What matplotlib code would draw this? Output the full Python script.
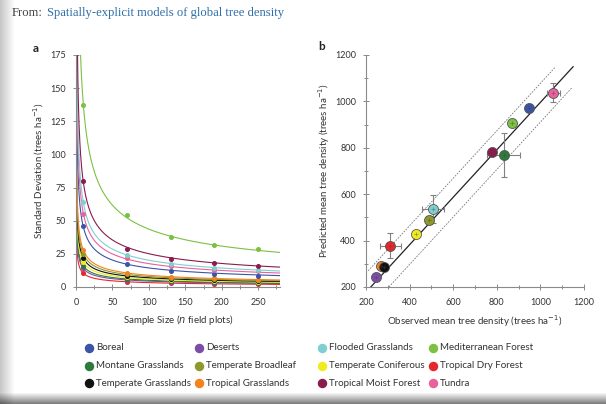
import numpy as np
import matplotlib
matplotlib.use("Agg")
import matplotlib.pyplot as plt
from matplotlib.lines import Line2D

# ---------------- data ----------------
biomes = ["Boreal", "Deserts", "Flooded Grasslands", "Mediterranean Forest",
          "Montane Grasslands", "Temperate Broadleaf", "Temperate Coniferous", "Tropical Dry Forest",
          "Temperate Grasslands", "Tropical Grasslands", "Tropical Moist Forest", "Tundra"]
colors = {"Boreal": "#3b54a5", "Deserts": "#7a4ea6", "Flooded Grasslands": "#80cfd0",
          "Mediterranean Forest": "#7cc143", "Montane Grasslands": "#2d7a3c",
          "Temperate Broadleaf": "#8c9a2c", "Temperate Coniferous": "#f0ea1e",
          "Tropical Dry Forest": "#e6262b", "Temperate Grasslands": "#111111",
          "Tropical Grasslands": "#f4821f", "Tropical Moist Forest": "#8a1c4c",
          "Tundra": "#e9619d"}

# panel a: standard deviation vs sample size
sample_n = [10, 70, 130, 190, 250]
sd_values = {
    "Mediterranean Forest": [137, 54, 38, 32, 29],
    "Tropical Moist Forest": [80, 29, 21, 18, 16],
    "Flooded Grasslands": [64, 24, 17.5, 14.5, 13],
    "Tundra": [55, 22, 16, 13, 12],
    "Boreal": [46, 17, 12, 9.5, 8.5],
    "Tropical Grasslands": [28, 10.5, 7.8, 6.5, 5.6],
    "Temperate Broadleaf": [25, 9.5, 7, 5.8, 5],
    "Temperate Grasslands": [22, 8.3, 6.1, 5, 4.4],
    "Temperate Coniferous": [19, 7.2, 5.3, 4.4, 3.8],
    "Montane Grasslands": [16, 6, 4.4, 3.7, 3.2],
    "Deserts": [14, 5.3, 3.9, 3.2, 2.8],
    "Tropical Dry Forest": [10.4, 3.9, 2.9, 2.4, 2.1],
}

# panel b: observed vs predicted mean tree density
obs = {"Deserts": 245, "Tropical Grasslands": 268, "Temperate Grasslands": 282,
       "Tropical Dry Forest": 312, "Temperate Coniferous": 428, "Temperate Broadleaf": 487,
       "Flooded Grasslands": 507, "Tropical Moist Forest": 778, "Montane Grasslands": 832,
       "Mediterranean Forest": 872, "Boreal": 948, "Tundra": 1060}
pred = {"Deserts": 245, "Tropical Grasslands": 290, "Temperate Grasslands": 285,
        "Tropical Dry Forest": 378, "Temperate Coniferous": 428, "Temperate Broadleaf": 488,
        "Flooded Grasslands": 537, "Tropical Moist Forest": 783, "Montane Grasslands": 770,
        "Mediterranean Forest": 908, "Boreal": 972, "Tundra": 1038}
xerr = {"Deserts": 0, "Tropical Grasslands": 8, "Temperate Grasslands": 0,
        "Tropical Dry Forest": 50, "Temperate Coniferous": 0, "Temperate Broadleaf": 12,
        "Flooded Grasslands": 50, "Tropical Moist Forest": 10, "Montane Grasslands": 75,
        "Mediterranean Forest": 0, "Boreal": 12, "Tundra": 30}
yerr = {"Deserts": 0, "Tropical Grasslands": 8, "Temperate Grasslands": 0,
        "Tropical Dry Forest": 55, "Temperate Coniferous": 0, "Temperate Broadleaf": 18,
        "Flooded Grasslands": 60, "Tropical Moist Forest": 10, "Montane Grasslands": 95,
        "Mediterranean Forest": 0, "Boreal": 18, "Tundra": 40}
fit_slope = 1.023
fit_intercepts = [-27, 55, -112]   # regression line, upper and lower bounds
fit_range = [(222, 1150), (210, 1068), (305, 1145)]

legend_cols = [["Boreal", "Montane Grasslands", "Temperate Grasslands"],
               ["Deserts", "Temperate Broadleaf", "Tropical Grasslands"],
               ["Flooded Grasslands", "Temperate Coniferous", "Tropical Moist Forest"],
               ["Mediterranean Forest", "Tropical Dry Forest", "Tundra"]]

# ---------------- figure ----------------
plt.rcParams['font.family'] = ['Lato', 'DejaVu Sans']
W, H = 606, 404
fig = plt.figure(figsize=(W / 100, H / 100), dpi=100)

# frame shading (left and bottom edges)
bg = fig.add_axes([0, 0, 1, 1], zorder=-10)
bg.set_axis_off()
img = np.ones((H, W))
xs = np.arange(W)
left = np.clip(1 - (14 - xs) / 14, 0, 1)
img *= (0.78 + 0.22 * left)[None, :]
ys = np.arange(H)
bottom = np.clip((ys - 392) / 12, 0, 1)
img = img * (1 - 0.55 * bottom[:, None])
bg.imshow(img, cmap="gray", vmin=0, vmax=1, aspect="auto", extent=[0, 1, 0, 1])
bg.set_xlim(0, 1); bg.set_ylim(0, 1)

renderer = fig.canvas.get_renderer()
t1 = fig.text(12 / W, 1 - 13 / H, "From:", family="Liberation Serif", fontsize=9.1,
              color="#444444", va="center", ha="left")
bb = t1.get_window_extent(renderer)
fig.text(bb.x1 / W + 4 / W, 1 - 13 / H, "Spatially-explicit models of global tree density",
         family="Liberation Serif", fontsize=9.1, color="#2f6ea8", va="center", ha="left")

spine_c = "#8a8a8a"
txt_c = "#333333"

def style(ax):
    for s in ["top", "right"]:
        ax.spines[s].set_visible(False)
    for s in ["left", "bottom"]:
        ax.spines[s].set_color(spine_c)
        ax.spines[s].set_linewidth(0.8)
    ax.tick_params(which="both", direction="inout", colors=spine_c, labelcolor=txt_c,
                   labelsize=6.5, width=0.7)
    ax.tick_params(which="major", length=4.5)
    ax.tick_params(which="minor", length=2.5)
    ax.tick_params(axis="y", which="major", pad=5)
    ax.tick_params(axis="x", which="major", pad=6)

# panel a
axa = fig.add_axes([76 / W, 1 - 287 / H, (280 - 76) / W, (287 - 55) / H])
style(axa)
nn = np.linspace(0.3, 280, 1500)
order_a = list(sd_values.keys())[::-1]
for i, b in enumerate(order_a):
    y = np.array(sd_values[b]); n = np.array(sample_n, dtype=float)
    c = np.sum(y / np.sqrt(n)) / np.sum(1 / n)
    axa.plot(nn, c / np.sqrt(nn), color=colors[b], lw=0.8, zorder=2 + i * 0.01)
    axa.plot(sample_n, y, "o", color=colors[b], ms=2.6, zorder=3)
axa.set_xlim(0, 280)
axa.set_ylim(0, 175)
axa.set_xticks([0, 50, 100, 150, 200, 250])
axa.set_xticks(np.arange(25, 280, 50), minor=True)
axa.set_yticks(np.arange(0, 176, 25))
axa.set_xlabel("Sample Size ($n$ field plots)", fontsize=7, color=txt_c, labelpad=4)
axa.set_ylabel("Standard Deviation (trees ha$^{-1}$)", fontsize=7, color=txt_c, labelpad=3)
fig.text(33 / W, 1 - 48 / H, "a", fontsize=8.5, fontweight="bold", color="#222222",
         ha="left", va="center")

# panel b
axb = fig.add_axes([366 / W, 1 - 287 / H, (584 - 366) / W, (287 - 55) / H])
style(axb)
styles = ["-", (0, (2, 1.5)), (0, (2, 1.5))]
cols_l = ["#222222", "#777777", "#777777"]
lws = [0.9, 0.6, 0.6]
for (x0, x1), icpt, ls, lc, lw in zip(fit_range, fit_intercepts, styles, cols_l, lws):
    xx = np.array([x0, x1])
    axb.plot(xx, fit_slope * xx + icpt, ls=ls, color=lc, lw=lw, zorder=2)
for b in obs:
    xe = xerr[b] if xerr[b] else None
    ye = yerr[b] if yerr[b] else None
    if xe or ye:
        axb.errorbar(obs[b], pred[b], xerr=xe, yerr=ye, fmt="none", ecolor="#808080",
                     elinewidth=0.8, capsize=2.3, capthick=0.8, zorder=3)
    axb.plot(obs[b], pred[b], "o", color=colors[b], ms=7.2, mec="#555555", mew=0.6, zorder=4)
    axb.plot(obs[b], pred[b], "+", color="#444444", ms=3.5, mew=0.5, alpha=0.55, zorder=5)
axb.set_xlim(200, 1200)
axb.set_ylim(200, 1200)
axb.set_xticks(np.arange(200, 1201, 200))
axb.set_xticks(np.arange(300, 1200, 200), minor=True)
axb.set_yticks(np.arange(200, 1201, 200))
axb.set_yticks(np.arange(300, 1200, 200), minor=True)
axb.set_xlabel("Observed mean tree density (trees ha$^{-1}$)", fontsize=7, color=txt_c, labelpad=4)
axb.set_ylabel("Predicted mean tree density (trees ha$^{-1}$)", fontsize=7, color=txt_c, labelpad=2)
fig.text(318 / W, 1 - 47 / H, "b", fontsize=8.5, fontweight="bold", color="#222222",
         ha="left", va="center")

# legend (manual grid)
col_x = [89, 199, 322, 433]
row_y = [348, 366, 383]
for cx, col in zip(col_x, legend_cols):
    for ry, b in zip(row_y, col):
        fig.lines.append(Line2D([cx / W], [1 - ry / H], marker="o", color=colors[b], ms=5.8,
                                ls="none", transform=fig.transFigure))
        fig.text((cx + 7) / W, 1 - ry / H, b, fontsize=7, color=txt_c, va="center", ha="left")

fig.savefig("out.png", dpi=100)
